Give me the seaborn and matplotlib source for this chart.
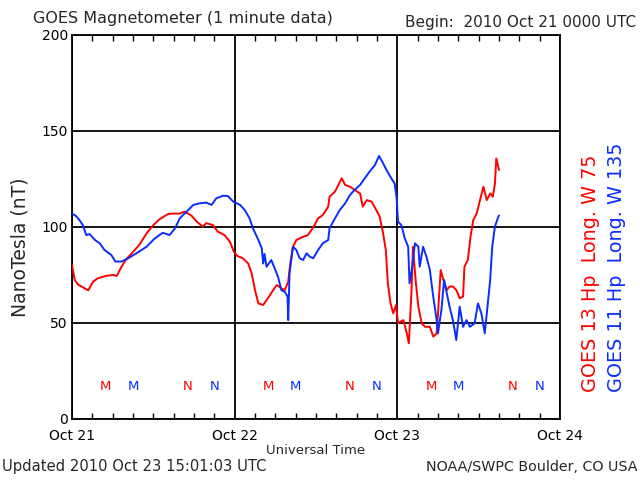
import matplotlib
matplotlib.use("Agg")
import matplotlib.pyplot as plt
import numpy as np
import pandas as pd
import seaborn as sns

# ---- data (hours since 2010 Oct 21 00:00 UTC, nT) ----
red_hours = [0.0, 0.4, 0.9, 1.4, 2.4, 3.1, 3.8, 5.1, 6.1, 6.6, 7.3, 8.0, 9.0, 10.0, 11.0,
             12.0, 12.9, 14.2, 14.9, 15.9, 16.6, 17.6, 18.4, 19.3, 19.8, 20.8, 21.5, 22.5,
             23.3, 23.9, 24.4, 25.2, 26.0, 26.5, 27.0, 27.5, 28.2, 28.9, 29.7, 30.2, 30.9,
             31.4, 31.9, 32.2, 32.6, 33.1, 33.9, 34.8, 35.6, 36.3, 37.0, 37.8, 38.0, 38.8,
             39.3, 39.8, 40.3, 41.0, 41.7, 42.5, 42.9, 43.5, 44.2, 44.9, 45.4, 45.9, 46.3,
             46.6, 47.0, 47.4, 47.8, 48.1, 48.9, 49.4, 49.7, 50.1, 50.3, 50.7, 51.1, 51.6,
             52.1, 52.8, 53.3, 53.8, 54.0, 54.4, 54.8, 55.3, 55.7, 56.2, 56.7, 57.2, 57.7,
             57.9, 58.4, 58.8, 59.2, 59.7, 60.2, 60.7, 61.2, 61.7, 62.1, 62.4, 62.6, 63.0]
red_vals = [80.2, 72.4, 70.0, 69.0, 67.0, 71.5, 73.3, 74.6, 75.0, 74.5, 79.3, 83.2, 87.0, 91.0,
            96.7, 101.0, 104.0, 106.8, 107.0, 107.0, 108.0, 106.0, 102.8, 100.2, 102.0, 101.0,
            97.6, 95.8, 92.3, 87.0, 84.9, 83.7, 81.0, 75.9, 67.2, 60.2, 59.4, 62.9, 67.2, 69.8,
            68.0, 67.2, 71.5, 81.0, 89.7, 93.2, 94.6, 95.8, 99.8, 104.5, 106.2, 110.6, 115.8,
            118.4, 121.9, 125.4, 121.9, 121.0, 119.3, 117.5, 110.6, 114.0, 113.2, 108.8, 105.4,
            96.7, 88.0, 70.7, 60.2, 55.0, 59.4, 50.0, 51.5, 44.6, 39.4, 67.2, 89.7, 72.4, 58.5,
            49.8, 48.0, 48.0, 42.9, 44.6, 55.0, 77.6, 72.4, 67.2, 69.0, 69.0, 67.2, 62.9, 63.7,
            79.3, 82.8, 95.0, 103.6, 107.0, 114.0, 121.0, 114.0, 117.5, 115.8, 122.7, 135.7, 129.7]

blue_hours = [0.0, 0.6, 1.1, 1.6, 2.1, 2.6, 3.4, 4.1, 4.8, 5.8, 6.4, 7.3, 8.3, 9.5, 11.0, 12.2,
              13.4, 14.4, 15.2, 15.9, 16.9, 17.9, 18.8, 19.8, 20.6, 21.3, 22.3, 23.0, 23.8,
              24.8, 25.5, 26.2, 26.7, 27.5, 28.0, 28.2, 28.4, 28.7, 29.4, 29.9, 30.4, 30.9,
              31.4, 31.8, 31.9, 32.1, 32.6, 33.1, 33.6, 34.1, 34.6, 35.1, 35.6, 36.3, 37.0,
              37.8, 38.0, 38.8, 39.5, 40.3, 41.0, 41.7, 42.5, 43.2, 43.9, 44.7, 45.3, 45.9,
              46.4, 47.1, 47.6, 47.9, 48.1, 48.6, 49.1, 49.6, 49.8, 50.2, 50.6, 51.1, 51.3,
              51.8, 52.3, 52.8, 53.3, 53.8, 54.0, 54.5, 54.9, 55.3, 55.7, 56.2, 56.7, 57.2,
              57.7, 58.2, 58.7, 59.4, 59.9, 60.4, 60.9, 61.3, 61.7, 62.0, 62.4, 62.9, 63.0]
blue_vals = [107.0, 105.7, 103.6, 101.0, 95.8, 96.3, 93.2, 91.5, 88.0, 85.4, 82.0, 82.0, 83.7,
             86.3, 89.7, 94.0, 97.0, 95.8, 99.3, 104.5, 108.0, 111.5, 112.3, 112.7, 111.5, 115.0,
             116.3, 116.1, 113.2, 111.5, 108.8, 104.5, 99.3, 93.2, 88.9, 81.0, 86.0, 79.3, 82.8,
             78.5, 74.0, 67.0, 66.3, 63.7, 51.5, 75.9, 89.7, 88.0, 83.7, 82.8, 86.3, 84.5, 83.7,
             88.0, 91.5, 93.2, 99.3, 104.5, 108.8, 112.3, 116.6, 119.3, 121.9, 125.4, 128.8,
             132.3, 137.0, 133.2, 129.7, 125.4, 122.7, 115.0, 102.8, 101.0, 94.0, 89.7, 70.7,
             79.3, 91.5, 89.7, 79.3, 89.7, 84.5, 77.6, 63.7, 51.5, 44.6, 56.8, 72.4, 65.5, 58.5,
             51.5, 41.1, 58.5, 48.0, 51.5, 48.0, 49.8, 60.2, 55.0, 44.6, 58.5, 72.4, 89.7, 100.2,
             105.4, 106.0]

# local midnight (M) / noon (N) markers
marker_hours = [5, 9, 17, 21, 29, 33, 41, 45, 53, 57, 65, 69]
marker_labels = ["M", "M", "N", "N"] * 3
marker_series = ["red", "blue", "red", "blue"] * 3
marker_level = 17

day_ticks = [0, 24, 48, 72]
day_labels = ["Oct 21", "Oct 22", "Oct 23", "Oct 24"]
y_ticks = [0, 50, 100, 150, 200]

RED = "#ff0000"
BLUE = "#0a2cff"
colors = {"red": RED, "blue": BLUE}

sns.set_style("white")
plt.rcParams["font.family"] = ["DejaVu Sans"]

fig = plt.figure(figsize=(6.4, 4.8), dpi=100)
ax = fig.add_axes([72 / 640, 61 / 480, 488 / 640, 384 / 480])

df_r = pd.DataFrame({"hour": red_hours, "nT": red_vals})
df_b = pd.DataFrame({"hour": blue_hours, "nT": blue_vals})
sns.lineplot(data=df_r, x="hour", y="nT", color=RED, lw=1.4, ax=ax,
             estimator=None, sort=False, zorder=3)
sns.lineplot(data=df_b, x="hour", y="nT", color=BLUE, lw=1.4, ax=ax,
             estimator=None, sort=False, zorder=3)

for h, lab, s in zip(marker_hours, marker_labels, marker_series):
    ax.text(h, marker_level, lab, color=colors[s], ha="center", va="center", fontsize=9.5)

ax.set_xlim(0, 72)
ax.set_ylim(0, 200)
ax.set_xticks(day_ticks)
ax.set_xticklabels(day_labels)
ax.set_xticks(np.arange(0, 73, 3), minor=True)
ax.set_yticks(y_ticks)
ax.set_xlabel("")
ax.set_ylabel("")
ax.grid(True, which="major", color="black", lw=1.3, zorder=1)
ax.tick_params(axis="x", which="major", length=0, pad=7, labelsize=10, colors="black")
ax.tick_params(axis="x", which="minor", direction="in", length=4, width=1,
               top=True, bottom=True, color="black")
ax.tick_params(axis="y", length=0, pad=3, labelsize=10, colors="black")
for sp in ax.spines.values():
    sp.set_color("black")
    sp.set_linewidth(1.3)

def px(x, y):
    return x / 640, 1 - y / 480

fig.text(*px(33, 18), "GOES Magnetometer (1 minute data)", fontsize=11.5, ha="left", va="center")
fig.text(*px(636, 22), "Begin:  2010 Oct 21 0000 UTC", fontsize=11, ha="right", va="center")
fig.text(*px(20, 247), "NanoTesla (nT)", fontsize=13.5, rotation=90, ha="center", va="center")
fig.text(*px(316, 450), "Universal Time", fontsize=9.5, ha="center", va="center")
fig.text(*px(2, 467), "Updated 2010 Oct 23 15:01:03 UTC", fontsize=10.6, ha="left", va="center")
fig.text(*px(638, 467), "NOAA/SWPC Boulder, CO USA", fontsize=10.3, ha="right", va="center")
fig.text(*px(591, 392), "GOES 13 Hp  Long. W 75", fontsize=13.8, rotation=90, color=RED,
         ha="center", va="bottom")
fig.text(*px(617, 392), "GOES 11 Hp  Long. W 135", fontsize=13.8, rotation=90, color=BLUE,
         ha="center", va="bottom")

fig.savefig("out.png", dpi=100)
